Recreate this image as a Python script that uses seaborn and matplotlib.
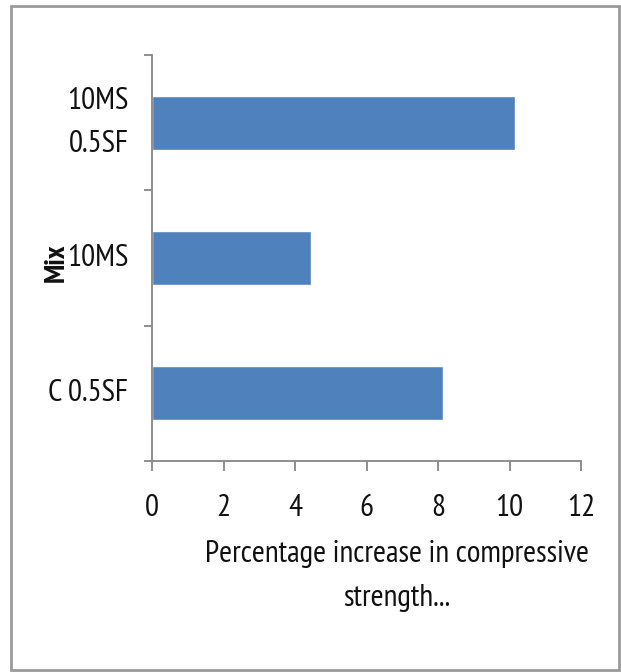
import matplotlib
matplotlib.use("Agg")
import matplotlib.pyplot as plt
from matplotlib.patches import Rectangle
import seaborn as sns
import pandas as pd

# Mix designs and their percentage gain in compressive strength
mixes = ["10MS\n0.5SF", "10MS", "C 0.5SF"]
increase = [10.15, 4.45, 8.15]
x_ticks = [0, 2, 4, 6, 8, 10, 12]

sns.set_theme(style="white")
plt.rcParams["font.family"] = ["PT Sans Narrow", "DejaVu Sans"]

df = pd.DataFrame({"Mix": mixes, "Increase": increase})

W, H = 621, 672
fig = plt.figure(figsize=(W / 100, H / 100), dpi=100)
ax = fig.add_axes([152 / W, 1 - 461 / H, (581 - 152) / W, (461 - 55) / H])

sns.barplot(data=df, x="Increase", y="Mix", orient="h", color="#4F81BD",
            saturation=1, width=0.4, ax=ax)

ax.set_xlim(0, 12)
ax.set_ylim(2.5, -0.5)
ax.set_xticks(x_ticks)
ax.set_xticklabels([str(t) for t in x_ticks])

axis_col = "#868686"
for side in ["top", "right"]:
    ax.spines[side].set_visible(False)
for side in ["left", "bottom"]:
    ax.spines[side].set_color(axis_col)
    ax.spines[side].set_linewidth(1.3)

# category boundaries carry the y ticks; labels sit between them
ax.set_yticks([-0.5, 0.5, 1.5, 2.5], minor=True)
ax.tick_params(axis="y", which="major", length=0, pad=17, labelsize=22.5,
               labelcolor="#111111")
ax.tick_params(axis="y", which="minor", length=6, width=1.3, color=axis_col,
               direction="out", left=True)
ax.tick_params(axis="x", which="major", length=7, width=1.3, color=axis_col,
               direction="out", bottom=True, pad=17, labelsize=22.5,
               labelcolor="#111111")
for lbl in ax.get_yticklabels():
    lbl.set_linespacing(1.7)
    lbl.set_verticalalignment("center")

ax.set_xlabel("")
ax.set_ylabel("")
fig.text(57 / W, 1 - 263 / H, "Mix", rotation=90, ha="center", va="center",
         fontsize=21, fontweight="bold", color="#111111")
fig.text(397 / W, 1 - 576 / H, "Percentage increase in compressive\nstrength...",
         ha="center", va="center", fontsize=22.5, linespacing=1.75,
         color="#111111")

# outer frame of the chart area
fig.patches.append(Rectangle((11 / W, 2 / H), (619 - 11) / W, (668 - 4) / H,
                             transform=fig.transFigure, fill=False,
                             edgecolor="#9a9a9a", linewidth=2))

fig.savefig("out.png", dpi=100)
